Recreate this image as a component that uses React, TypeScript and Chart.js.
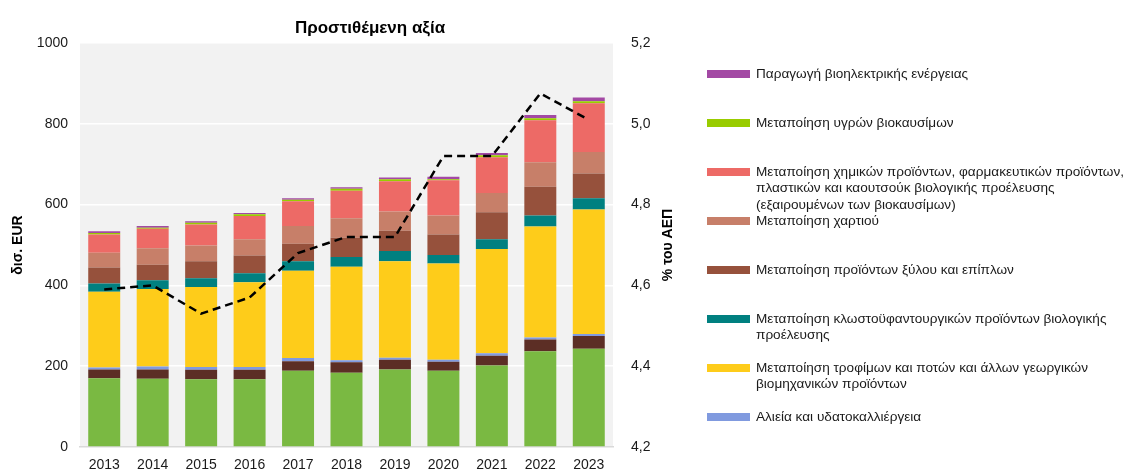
import React, { useEffect, useRef } from "react";
import { Chart, registerables } from "chart.js";

Chart.register(...registerables);

const years = ["2013", "2014", "2015", "2016", "2017", "2018", "2019", "2020", "2021", "2022", "2023"];

const agriculture = [170, 169, 168, 168, 189, 184, 192, 189, 202, 237, 243];
const forestry = [22, 23, 23, 23, 23, 26, 24, 22, 24, 29, 32];
const fisheries = [5, 7, 7, 7, 8, 5, 5, 5, 6, 5, 5];
const food = [187, 192, 198, 210, 216, 231, 239, 238, 258, 275, 308];
const textiles = [21, 22, 22, 22, 24, 24, 25, 21, 24, 27, 28];
const wood = [39, 38, 42, 44, 43, 48, 50, 51, 67, 71, 61];
const paper = [37, 41, 39, 40, 44, 48, 48, 47, 48, 61, 53];
const chemicals = [45, 48, 52, 58, 61, 68, 75, 87, 88, 104, 121];
const biofuels = [4, 3, 4, 4, 4, 5, 5, 3, 5, 5, 5];
const bioelectricity = [4, 4, 4, 3, 4, 4, 4, 6, 6, 8, 9];

const shareOfGdp = [4.59, 4.6, 4.53, 4.57, 4.68, 4.72, 4.72, 4.92, 4.92, 5.075, 5.01];

const leftTicks = [0, 200, 400, 600, 800, 1000];
const rightTicks = [4.2, 4.4, 4.6, 4.8, 5.0, 5.2];

const FONT = "'Liberation Sans', Arial, sans-serif";

const barSeries = [
  { label: "Γεωργία", data: agriculture, color: "#7AB942" },
  { label: "Δασοκομία και υλοτομία", data: forestry, color: "#5C2E25" },
  { label: "Αλιεία και υδατοκαλλιέργεια", data: fisheries, color: "#809ADF" },
  { label: "Μεταποίηση τροφίμων και ποτών και άλλων γεωργικών βιομηχανικών προϊόντων", data: food, color: "#FECC1A" },
  { label: "Μεταποίηση κλωστοϋφαντουργικών προϊόντων βιολογικής προέλευσης", data: textiles, color: "#008080" },
  { label: "Μεταποίηση προϊόντων ξύλου και επίπλων", data: wood, color: "#96513C" },
  { label: "Μεταποίηση χαρτιού", data: paper, color: "#C77F69" },
  { label: "Μεταποίηση χημικών προϊόντων, φαρμακευτικών προϊόντων, πλαστικών και καουτσούκ βιολογικής προέλευσης (εξαιρουμένων των βιοκαυσίμων)", data: chemicals, color: "#ED6A66" },
  { label: "Μεταποίηση υγρών βιοκαυσίμων", data: biofuels, color: "#99CC00" },
  { label: "Παραγωγή βιοηλεκτρικής ενέργειας", data: bioelectricity, color: "#A349A4" },
];

const legendItems = [
  { lines: ["Παραγωγή βιοηλεκτρικής ενέργειας"], color: "#A349A4", y: 74 },
  { lines: ["Μεταποίηση υγρών βιοκαυσίμων"], color: "#99CC00", y: 123 },
  {
    lines: [
      "Μεταποίηση χημικών προϊόντων, φαρμακευτικών προϊόντων,",
      "πλαστικών και καουτσούκ βιολογικής προέλευσης",
      "(εξαιρουμένων των βιοκαυσίμων)",
    ],
    color: "#ED6A66",
    y: 172,
  },
  { lines: ["Μεταποίηση χαρτιού"], color: "#C77F69", y: 221 },
  { lines: ["Μεταποίηση προϊόντων ξύλου και επίπλων"], color: "#96513C", y: 270 },
  { lines: ["Μεταποίηση κλωστοϋφαντουργικών προϊόντων βιολογικής", "προέλευσης"], color: "#008080", y: 319 },
  { lines: ["Μεταποίηση τροφίμων και ποτών και άλλων γεωργικών", "βιομηχανικών προϊόντων"], color: "#FECC1A", y: 368 },
  { lines: ["Αλιεία και υδατοκαλλιέργεια"], color: "#809ADF", y: 417 },
];

const decor = {
  id: "decor",
  beforeDraw(chart: any) {
    const { ctx, chartArea } = chart;
    ctx.save();
    ctx.fillStyle = "#F2F2F2";
    ctx.fillRect(chartArea.left, chartArea.top, chartArea.right - chartArea.left, chartArea.bottom - chartArea.top);
    ctx.restore();
  },
  afterDraw(chart: any) {
    const { ctx, chartArea } = chart;
    const midY = (chartArea.top + chartArea.bottom) / 2;
    ctx.save();
    ctx.fillStyle = "#000";
    ctx.textAlign = "center";
    ctx.textBaseline = "middle";
    ctx.font = `bold 17px ${FONT}`;
    ctx.fillText("Προστιθέμενη αξία", 370, 28);
    ctx.font = `bold 14px ${FONT}`;
    ctx.translate(18, midY);
    ctx.rotate(-Math.PI / 2);
    ctx.fillText("δισ. EUR", 0, 0);
    ctx.restore();
    ctx.save();
    ctx.fillStyle = "#000";
    ctx.textAlign = "center";
    ctx.textBaseline = "middle";
    ctx.font = `bold 14px ${FONT}`;
    ctx.translate(668, midY);
    ctx.rotate(-Math.PI / 2);
    ctx.fillText("% του ΑΕΠ", 0, 0);
    ctx.restore();
  },
};

const noPad = (s: any) => {
  s.paddingTop = 0;
  s.paddingBottom = 0;
};

export default function App() {
  const ref = useRef<HTMLCanvasElement>(null);

  useEffect(() => {
    if (!ref.current) return;
    Chart.defaults.font.family = FONT;
    const datasets: any[] = barSeries.map((s) => ({
      type: "bar",
      label: s.label,
      data: s.data,
      backgroundColor: s.color,
      borderWidth: 0,
      yAxisID: "y",
      order: 1,
      barPercentage: 0.66,
      categoryPercentage: 1,
    }));
    datasets.push({
      type: "line",
      label: "% του ΑΕΠ",
      data: shareOfGdp,
      borderColor: "#000",
      borderWidth: 2.5,
      borderDash: [8, 5],
      pointRadius: 0,
      tension: 0,
      fill: false,
      yAxisID: "y1",
      order: 0,
    });
    const chart = new Chart(ref.current, {
      type: "bar",
      data: { labels: years, datasets },
      plugins: [decor],
      options: {
        animation: false,
        responsive: false,
        maintainAspectRatio: false,
        layout: { padding: { top: 43, right: 50, left: 0, bottom: 0 } },
        plugins: { legend: { display: false }, tooltip: { enabled: false }, title: { display: false } },
        scales: {
          x: {
            stacked: true,
            grid: { display: false, drawTicks: false },
            border: { display: true, color: "#D9D9D9", width: 1.5 },
            ticks: { color: "#1a1a1a", font: { size: 14 }, padding: 10, maxRotation: 0 },
            afterFit: (s: any) => {
              s.height = 22;
              s.paddingLeft = 0;
              s.paddingRight = 0;
            },
          },
          y: {
            stacked: true,
            min: 0,
            max: 1000,
            afterBuildTicks: (s: any) => {
              s.ticks = leftTicks.map((v) => ({ value: v }));
            },
            grid: { color: "#FFFFFF", lineWidth: 1.5, drawTicks: false },
            border: { display: false },
            ticks: { color: "#1a1a1a", font: { size: 14 }, padding: 12, callback: (v: any) => String(v) },
            afterFit: (s: any) => {
              s.width = 80;
              noPad(s);
            },
          },
          y1: {
            position: "right",
            stacked: false,
            min: 4.2,
            max: 5.2,
            afterBuildTicks: (s: any) => {
              s.ticks = rightTicks.map((v) => ({ value: v }));
            },
            grid: { drawOnChartArea: false, drawTicks: false },
            border: { display: false },
            ticks: {
              color: "#1a1a1a",
              font: { size: 14 },
              padding: 18,
              callback: (v: any) => Number(v).toFixed(1).replace(".", ","),
            },
            afterFit: (s: any) => {
              s.width = 77;
              noPad(s);
            },
          },
        },
      } as any,
    });
    return () => chart.destroy();
  }, []);

  return (
    <div style={{ position: "fixed", left: 0, top: 0, width: 1129, height: 469, background: "#fff", overflow: "hidden" }}>
      <canvas ref={ref} width={740} height={469} style={{ position: "absolute", left: 0, top: 0, width: 740, height: 469 }} />
      {legendItems.map((it, i) => (
        <div key={i}>
          <div
            style={{
              position: "absolute",
              left: 707,
              top: it.y - 4,
              width: 43,
              height: 8,
              background: it.color,
            }}
          />
          <div
            style={{
              position: "absolute",
              left: 756,
              top: it.y - 8.5,
              fontFamily: FONT,
              fontSize: 13.6,
              lineHeight: "16.5px",
              color: "#1a1a1a",
              whiteSpace: "nowrap",
            }}
          >
            {it.lines.map((l, j) => (
              <div key={j}>{l}</div>
            ))}
          </div>
        </div>
      ))}
    </div>
  );
}
